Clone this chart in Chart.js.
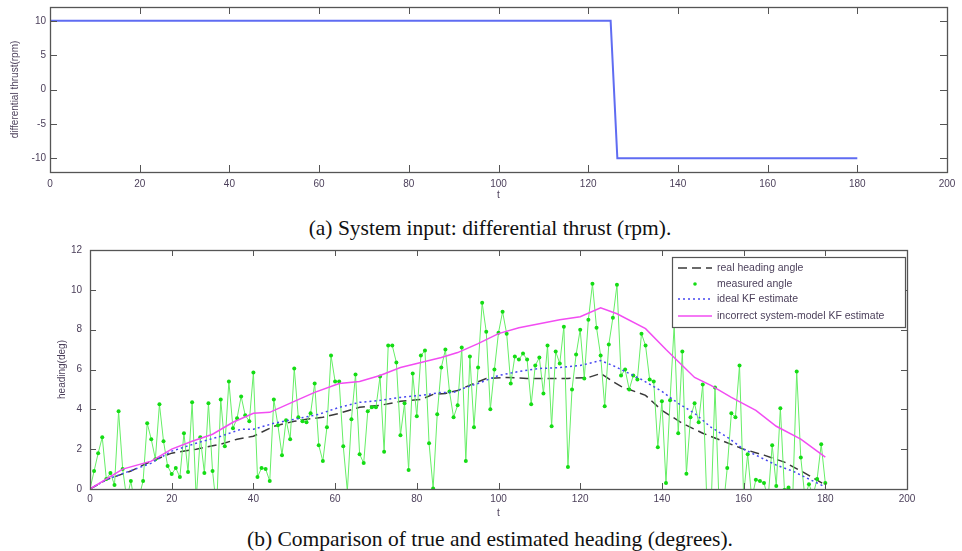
<!DOCTYPE html>
<html>
<head>
<meta charset="utf-8">
<script src="https://cdn.jsdelivr.net/npm/chart.js@4.4.0/dist/chart.umd.min.js"></script>
<style>
  body { margin: 0; background: #fff; width: 962px; height: 551px; position: relative; overflow: hidden; }
  #thrustChart { position: absolute; left: 0; top: 0; }
  #headingChart { position: absolute; left: 0; top: 240px; }
  .cap { position: absolute; left: 0; width: 980px; text-align: center; font-family: "Liberation Serif", "Times New Roman", serif; font-size: 21.5px; color: #111; line-height: 22px; }
</style>
</head>
<body>
<canvas id="thrustChart" width="962" height="205"></canvas>
<div class="cap" style="top:217px">(a) System input: differential thrust (rpm).</div>
<canvas id="headingChart" width="962" height="283"></canvas>
<div class="cap" style="top:528px">(b) Comparison of true and estimated heading (degrees).</div>
<script>
// --- (a) system input ---
const thrustT = [0, 125, 126.5, 180];
const thrustRpm = [10, 10, -10, -10];
const thrustXTicks = [0, 20, 40, 60, 80, 100, 120, 140, 160, 180, 200];
const thrustYTicks = [-10, -5, 0, 5, 10];

// --- (b) heading ---
// measured angle, one sample per time unit, t = 0..180
const measuredAngle = [
  0, 0.9, 1.8, 2.6, 0.5, 0.8, 0.2, 3.9, 1.0, -0.5,
  0.4, -0.8, -0.4, 0.4, 3.3, 2.5, 1.5, 4.25, 2.4, 1.15,
  0.75, 1.05, 0.6, 2.8, 0.85, 4.35, -0.5, 2.6, 0.8, 4.3,
  0.9, -1.0, 4.5, 2.15, 5.4, 3.05, 3.55, 4.65, 3.7, 3.4,
  5.85, 0.6, 1.05, 1.0, 0.4, 4.5, 3.2, 1.7, 3.45, 2.5,
  6.05, 3.6, 3.4, 3.35, 3.8, 5.3, 2.2, 1.4, 3.1, 6.7,
  5.4, 5.4, 2.15, -0.1, 3.5, 5.75, 1.75, 1.3, 3.9, 4.1,
  4.1, 5.65, 1.87, 7.2, 7.2, 6.35, 2.7, 4.3, 0.96, 5.8,
  3.65, 6.7, 6.95, 2.3, 0.03, 3.75, 6.1, 7.0, 4.9, 3.6,
  4.2, 7.1, 1.4, 6.65, 3.1, 6.1, 9.35, 7.9, 4.0, 6.0,
  7.85, 8.9, 7.8, 5.3, 6.65, 6.5, 6.8, 6.5, 4.25, 6.2,
  6.6, 4.8, 7.2, 3.15, 6.9, 6.3, 8.15, 1.1, 5.0, 6.75,
  8.0, 5.55, 8.5, 10.3, 8.1, 6.7, 4.15, 7.25, 8.6, 10.25,
  5.7, 6.0, 5.0, 5.7, 5.5, 7.8, 7.2, 5.5, 5.4, 2.1,
  4.4, 0.3, 4.45, 8.2, 2.8, 6.9, 0.77, 3.6, 4.3, 3.35,
  5.25, -0.6, -1.2, 5.1, -0.8, -1.0, 1.06, 3.8, 3.6, 6.2,
  -0.3, 1.75, -0.5, 0.47, 0.4, 0.3, -0.5, 2.2, 0.15, 4.06,
  -0.05, 0.07, -0.6, 5.9, 1.58, -0.4, 0.24, -0.3, 0.5, 2.25,
  0.3
];
const realT = [0, 4, 10, 15, 20, 26, 32, 36, 40, 45, 50, 53, 57, 61, 66, 71, 76, 81, 84, 87, 90, 94, 97, 102, 107, 112, 117, 122, 125, 128, 130, 136, 140, 145, 150, 155, 160, 165, 170, 175, 180];
const realHeading = [0, 0.47, 0.9, 1.4, 1.8, 2.0, 2.25, 2.5, 2.65, 3.15, 3.4, 3.5, 3.6, 3.8, 4.1, 4.2, 4.4, 4.5, 4.75, 4.8, 4.95, 5.3, 5.55, 5.6, 5.55, 5.55, 5.55, 5.6, 5.8, 5.4, 5.15, 4.7, 3.95, 3.3, 2.8, 2.4, 2.0, 1.7, 1.35, 0.8, 0.2];
const idealT = [0, 4, 15, 20, 26, 32, 37, 40, 45, 50, 56, 61, 66, 71, 76, 81, 86, 89, 92, 95, 100, 105, 110, 115, 120, 125, 128, 135, 140, 144, 148, 152, 156, 160, 164, 168, 172, 176, 180];
const idealKF = [0, 0.47, 1.3, 1.9, 2.3, 2.65, 3.0, 3.0, 3.3, 3.5, 3.75, 4.1, 4.35, 4.45, 4.6, 4.7, 4.85, 4.85, 5.1, 5.3, 5.7, 5.9, 6.05, 6.1, 6.2, 6.45, 6.2, 5.5, 4.9, 4.3, 3.8, 3.1, 2.6, 2.0, 1.6, 1.2, 0.9, 0.5, 0.1];
const wrongT = [0, 8, 15, 20, 25, 30, 35, 40, 44, 50, 55, 61, 66, 71, 76, 81, 86, 90, 95, 100, 105, 110, 115, 120, 125, 129, 136, 141, 144, 148, 152, 157, 163, 168, 174, 180];
const wrongKF = [0, 1.0, 1.4, 2.0, 2.4, 2.75, 3.35, 3.8, 3.85, 4.4, 4.85, 5.3, 5.4, 5.7, 6.1, 6.35, 6.6, 6.85, 7.3, 7.8, 8.1, 8.3, 8.5, 8.65, 9.1, 8.8, 8.05, 7.0, 6.4, 5.6, 5.2, 4.6, 3.95, 3.15, 2.5, 1.6];
const headingXTicks = [0, 20, 40, 60, 80, 100, 120, 140, 160, 180, 200];
const headingYTicks = [0, 2, 4, 6, 8, 10, 12];

const tickColor = '#4b3f5a';
const tickFont = { family: 'Liberation Sans', size: 10 };

function pts(xs, ys) { return ys.map((v, i) => ({ x: xs[i], y: v })); }

// MATLAB-like box with inward tick marks on all four sides
const boxPlugin = {
  id: 'box',
  afterDatasetsDraw(chart, args, opts) {
    const { ctx, chartArea: a, scales: { x, y } } = chart;
    const len = opts.len || 6;
    ctx.save();
    ctx.strokeStyle = '#555';
    ctx.lineWidth = 1;
    ctx.beginPath();
    x.ticks.forEach(t => {
      const px = Math.round(x.getPixelForValue(t.value)) + 0.5;
      ctx.moveTo(px, a.bottom); ctx.lineTo(px, a.bottom - len);
      ctx.moveTo(px, a.top); ctx.lineTo(px, a.top + len);
    });
    y.ticks.forEach(t => {
      const py = Math.round(y.getPixelForValue(t.value)) + 0.5;
      ctx.moveTo(a.left, py); ctx.lineTo(a.left + len, py);
      ctx.moveTo(a.right, py); ctx.lineTo(a.right - len, py);
    });
    ctx.stroke();
    ctx.lineWidth = 1.3;
    ctx.strokeRect(Math.round(a.left) + 0.5, Math.round(a.top) + 0.5, Math.round(a.width), Math.round(a.height));
    ctx.restore();
  }
};

// boxed legend in the upper right corner
const boxLegend = {
  id: 'boxLegend',
  afterDraw(chart) {
    const { ctx, chartArea: a } = chart;
    const w = 233, h = 70;
    const x0 = a.right - w - 2, y0 = a.top + 7;
    ctx.save();
    ctx.fillStyle = '#fff';
    ctx.fillRect(x0, y0, w, h);
    ctx.strokeStyle = '#555';
    ctx.lineWidth = 1.2;
    ctx.strokeRect(x0 + 0.5, y0 + 0.5, w, h);
    ctx.font = '10.5px "Liberation Sans"';
    ctx.textBaseline = 'middle';
    const rows = [11, 27, 42, 59];
    chart.data.datasets.forEach((ds, i) => {
      const yy = y0 + rows[i];
      if (ds.legendDot) {
        ctx.fillStyle = ds.pointBackgroundColor;
        ctx.beginPath();
        ctx.arc(x0 + 23, yy, 1.8, 0, Math.PI * 2);
        ctx.fill();
      } else {
        ctx.strokeStyle = ds.borderColor;
        ctx.lineWidth = ds.borderWidth;
        ctx.setLineDash(ds.borderDash || []);
        ctx.beginPath();
        ctx.moveTo(x0 + 6, yy); ctx.lineTo(x0 + 40, yy);
        ctx.stroke();
        ctx.setLineDash([]);
      }
      ctx.fillStyle = tickColor;
      ctx.fillText(ds.label, x0 + 45, yy);
    });
    ctx.restore();
  }
};

function xAxis(ticks, height, pad) {
  return {
    type: 'linear', min: 0, max: 200,
    afterBuildTicks: s => { s.ticks = ticks.map(v => ({ value: v })); },
    afterFit: s => { s.height = height; s.paddingLeft = 0; s.paddingRight = 0; },
    grid: { display: false, drawTicks: false },
    border: { display: false },
    ticks: { color: tickColor, font: tickFont, padding: pad, maxRotation: 0 },
    title: { display: true, text: 't', color: tickColor, font: tickFont, padding: { top: 0, bottom: 4 } }
  };
}

function yAxis(min, max, ticks, width, pad, title, titlePad) {
  return {
    type: 'linear', min: min, max: max,
    afterBuildTicks: s => { s.ticks = ticks.map(v => ({ value: v })); },
    afterFit: s => { s.width = width; s.paddingTop = 0; s.paddingBottom = 0; },
    grid: { display: false, drawTicks: false },
    border: { display: false },
    ticks: { color: tickColor, font: tickFont, padding: pad },
    title: { display: true, text: title, color: tickColor, font: tickFont, padding: { top: titlePad, bottom: 0 } }
  };
}

new Chart(document.getElementById('thrustChart'), {
  type: 'line',
  data: {
    datasets: [{
      label: 'differential thrust',
      data: pts(thrustT, thrustRpm),
      borderColor: '#5f6cf2',
      borderWidth: 2,
      pointRadius: 0,
      tension: 0
    }]
  },
  options: {
    responsive: false,
    devicePixelRatio: 1,
    animation: false,
    layout: { padding: { top: 7, right: 15, left: 0, bottom: 0 } },
    plugins: { legend: { display: false }, tooltip: { enabled: false }, box: { len: 7 } },
    scales: {
      x: xAxis(thrustXTicks, 33, 6),
      y: yAxis(-12, 12, thrustYTicks, 50, 4, 'differential thrust(rpm)', 9)
    }
  },
  plugins: [boxPlugin]
});

new Chart(document.getElementById('headingChart'), {
  type: 'line',
  data: {
    datasets: [
      {
        label: 'real heading angle',
        data: pts(realT, realHeading),
        borderColor: '#3a3a3a',
        borderWidth: 1.5,
        borderDash: [9, 5],
        pointRadius: 0,
        order: 4
      },
      {
        label: 'measured angle',
        data: measuredAngle.map((v, i) => ({ x: i, y: v })),
        borderColor: '#66ee66',
        borderWidth: 1,
        pointRadius: 2,
        pointBorderWidth: 0,
        pointBackgroundColor: '#14dc14',
        legendDot: true,
        order: 3
      },
      {
        label: 'ideal KF estimate',
        data: pts(idealT, idealKF),
        borderColor: '#4646f0',
        borderWidth: 1.5,
        borderDash: [2, 3],
        pointRadius: 0,
        order: 2
      },
      {
        label: 'incorrect system-model KF estimate',
        data: pts(wrongT, wrongKF),
        borderColor: '#f24cf2',
        borderWidth: 1.5,
        pointRadius: 0,
        order: 1
      }
    ]
  },
  options: {
    responsive: false,
    devicePixelRatio: 1,
    animation: false,
    layout: { padding: { top: 10, right: 55, left: 0, bottom: 0 } },
    plugins: { legend: { display: false }, tooltip: { enabled: false }, box: { len: 6 } },
    scales: {
      x: xAxis(headingXTicks, 34, 4),
      y: yAxis(0, 12, headingYTicks, 90, 8, 'heading(deg)', 56)
    }
  },
  plugins: [boxPlugin, boxLegend]
});
</script>
</body>
</html>
